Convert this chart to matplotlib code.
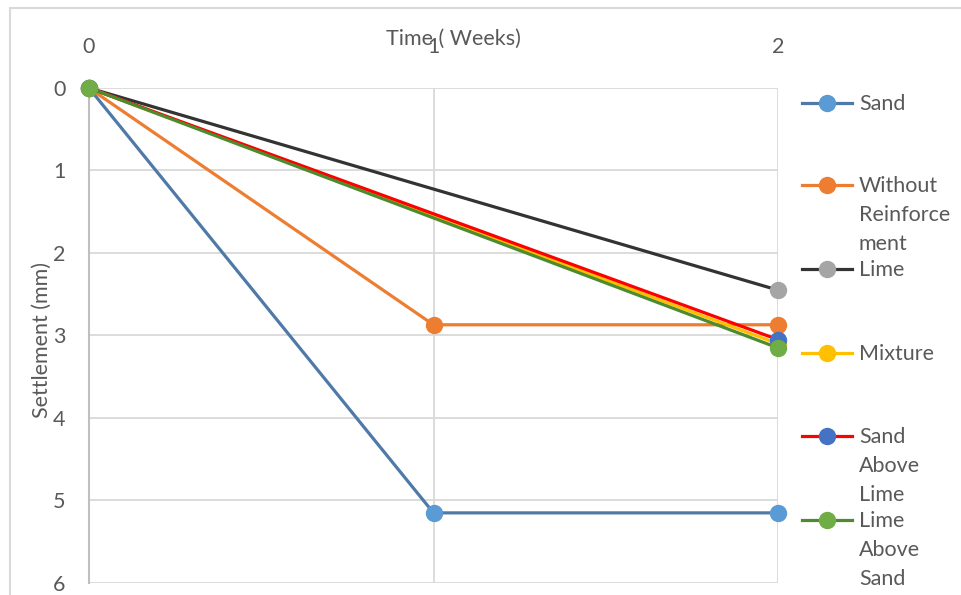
import matplotlib
matplotlib.use("Agg")
import matplotlib.pyplot as plt
from matplotlib.lines import Line2D
from matplotlib.patches import Rectangle

weeks = [0, 1, 2]
series_names = ["Sand", "Without\nReinforce\nment", "Lime", "Mixture",
                "Sand\nAbove\nLime", "Lime\nAbove\nSand"]
# None marks a week with no reading; the line joins the readings around it
sand = [0, 5.15, 5.15]
without_reinforcement = [0, 2.87, 2.87]
lime = [0, None, 2.45]
mixture = [0, None, 3.10]
sand_above_lime = [0, None, 3.05]
lime_above_sand = [0, None, 3.15]
values = [sand, without_reinforcement, lime, mixture, sand_above_lime, lime_above_sand]

line_colors = ["#4F7AA8", "#ED7D31", "#333333", "#FFC000", "#FF0000", "#4E8A2E"]
marker_colors = ["#5B9BD5", "#ED7D31", "#A5A5A5", "#FFC000", "#4472C4", "#70AD47"]

plt.rcParams["font.family"] = ["Lato", "DejaVu Sans"]
text_color = "#595959"
fs = 15.5

fig = plt.figure(figsize=(9.61, 5.95), dpi=100)
fig.patches.append(Rectangle((10 / 961, -0.1), 1.0, 1 - 8 / 595 + 0.1,
                             transform=fig.transFigure, fill=False,
                             edgecolor="#D9D9D9", linewidth=1.5))

ax = fig.add_axes([89 / 961, 1 - 583 / 595, (778 - 89) / 961, (583 - 88) / 595])

for vals, lc, mc in zip(values, line_colors, marker_colors):
    x = [w for w, v in zip(weeks, vals) if v is not None]
    y = [v for v in vals if v is not None]
    ax.plot(x, y, color=lc, linewidth=2.3, marker="o", markersize=11.5,
            markerfacecolor=mc, markeredgecolor=mc, clip_on=False, zorder=3)

ax.set_xlim(0, 2)
ax.set_ylim(6, 0)
ax.set_xticks(weeks)
ax.set_yticks(range(0, 7))
ax.xaxis.tick_top()
ax.tick_params(axis="both", length=0, labelsize=fs, colors=text_color)
ax.tick_params(axis="x", pad=22)
ax.tick_params(axis="y", pad=17)
ax.grid(True, color="#D9D9D9", linewidth=1.3)
ax.set_axisbelow(True)
for side in ["top", "right", "bottom"]:
    ax.spines[side].set_visible(False)
ax.spines["left"].set_color("#BFBFBF")
ax.spines["left"].set_linewidth(1.5)

fig.text(453 / 961, 1 - 39 / 595, "Time ( Weeks)", ha="center", va="center",
         fontsize=fs, color=text_color)
fig.text(42 / 961, 1 - 340 / 595, "Settlement (mm)", ha="center", va="center",
         rotation=90, fontsize=fs, color=text_color)

# legend drawn entry by entry on the right
legend_y = [103, 185, 269, 353, 436, 520]
for name, lc, mc, ypx in zip(series_names, line_colors, marker_colors, legend_y):
    yf = 1 - ypx / 595
    fig.add_artist(Line2D([802 / 961, 852 / 961], [yf, yf], transform=fig.transFigure,
                          color=lc, linewidth=2.3))
    fig.add_artist(Line2D([827 / 961], [yf], transform=fig.transFigure, marker="o",
                          markersize=11.5, markerfacecolor=mc, markeredgecolor=mc))
    fig.text(859 / 961, yf + 9 / 595, name, ha="left", va="top", fontsize=fs,
             color=text_color, linespacing=1.55)

fig.savefig("out.png", dpi=100, facecolor="white")
